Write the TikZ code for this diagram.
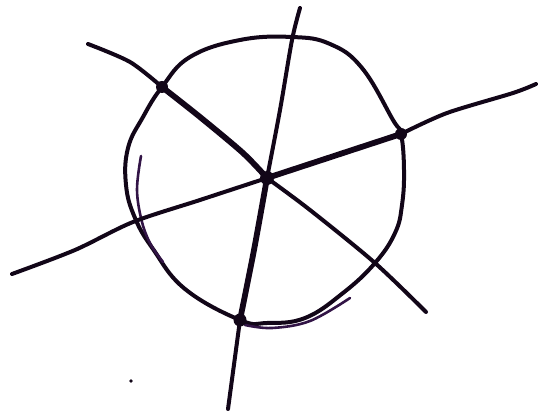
\documentclass[tikz,border=0pt]{standalone}
\definecolor{ink}{RGB}{18,6,24}
\definecolor{inkp}{RGB}{50,20,70}
\tikzset{
  pen/.style={draw=ink, line width=4pt, line cap=round, line join=round},
  boldpen/.style={draw=ink, line width=5.8pt, line cap=round, line join=round},
  thinpen/.style={draw=inkp, line width=2.6pt, line cap=round, line join=round},
  dotpt/.style={fill=ink}
}
\begin{document}
\begin{tikzpicture}[x=1pt,y=-1pt]
\useasboundingbox (0,0) rectangle (553,419);
% named points
\coordinate (O) at (267,178);
\coordinate (A) at (162,87);
\coordinate (B) at (401,134);
\coordinate (C) at (240,320);
\coordinate (L1s) at (88,44);
\coordinate (L1e) at (426,312);
\coordinate (L2s) at (12,274);
\coordinate (L2e) at (536,84);
\coordinate (L3s) at (300,8);
\coordinate (L3e) at (228,409);
% circle
\draw[pen] plot[smooth cycle, tension=0.7] coordinates {
  (A) (190,57) (240,40) (292,37) (330,44) (362,68) (393,120) (B)
  (404,170) (402,205) (395,233) (375,263) (343,293) (305,318) (267,323)
  (C) (185,289) (153,249) (135,218) (126,185) (128,148) (143,117)};
% retraced strokes
\draw[thinpen] plot[smooth, tension=0.6] coordinates {(141,156) (137,190) (142,222) (151,245) (163,262)};
\draw[thinpen] plot[smooth, tension=0.6] coordinates {(245,325) (272,328) (310,321) (350,298)};
% line 1
\draw[pen] plot[smooth, tension=0.5] coordinates {(L1s) (130,62) (A)};
\draw[boldpen] plot[smooth, tension=0.5] coordinates {(A) (200,117) (243,153) (O)};
\draw[pen] plot[smooth, tension=0.5] coordinates {(O) (310,210) (375,263) (L1e)};
% line 2
\draw[pen] plot[smooth, tension=0.5] coordinates {(L2s) (75,250) (133,222) (200,200) (O)};
\draw[boldpen] (O) -- (B);
\draw[pen] plot[smooth, tension=0.5] coordinates {(B) (447,113) (513,93) (L2e)};
% line 3
\draw[pen] plot[smooth, tension=0.5] coordinates {(L3s) (292,40) (280,110) (O)};
\draw[boldpen] plot[smooth, tension=0.5] coordinates {(O) (254,250) (C)};
\draw[pen] (C) -- (L3e);
% dots
\fill[dotpt] (O) circle (7);
\fill[dotpt] (A) circle (6);
\fill[dotpt] (B) circle (6);
\fill[dotpt] (C) circle (6.5);
\fill[dotpt] (131,381) circle (1.8);
\end{tikzpicture}
\end{document}
